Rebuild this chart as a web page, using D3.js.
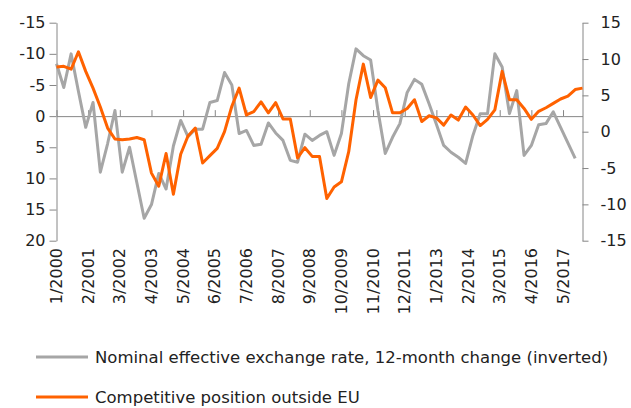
<!DOCTYPE html>
<html>
<head>
<meta charset="utf-8">
<script src="https://cdn.jsdelivr.net/npm/d3@7"></script>
<style>
  body { margin: 0; background: #fff; }
  svg { font-family: "DejaVu Sans", sans-serif; }
</style>
</head>
<body>
<svg id="chart" width="631" height="408"></svg>
<script>
// quarterly observations from Q1 2000 (gray ends Q4 2017, orange Q1 2018)
const nominalRate = [
  -8.4, -4.6, -10.0, -4.0, 1.8, -2.2, 9.0, 4.4, -0.9, 9.0, 5.0, 10.7,
  16.4, 14.2, 9.2, 11.7, 4.8, 0.7, 3.3, 2.1, 2.1, -2.2, -2.5, -7.0,
  -5.0, 2.8, 2.3, 4.7, 4.5, 1.1, 2.7, 3.9, 7.1, 7.4, 2.9, 3.9,
  3.1, 2.5, 6.3, 2.8, -5.2, -10.8, -9.7, -9.0, -0.9, 6.0, 3.4, 1.2,
  -3.8, -5.9, -5.1, -2.0, 1.3, 4.7, 5.8, 6.6, 7.6, 3.1, -0.4, -0.4,
  -10.0, -7.9, -0.4, -4.1, 6.3, 4.7, 1.4, 1.2, -0.7, 1.8, 4.3, 6.8
];
const competitive = [
  8.9, 9.0, 8.6, 11.0, 8.3, 6.0, 3.4, 0.5, -1.0, -1.1, -1.0, -0.8,
  -1.1, -5.7, -7.5, -3.0, -8.6, -3.1, -0.6, 0.5, -4.3, -3.3, -2.3, 0.0,
  3.5, 6.0, 2.3, 2.75, 4.1, 2.6, 4.0, 1.75, 1.75, -3.6, -2.2, -3.4,
  -3.4, -9.2, -7.6, -6.9, -2.75, 4.4, 9.3, 4.7, 7.1, 6.05, 2.6, 2.6,
  3.2, 4.4, 1.4, 2.2, 1.9, 0.9, 2.3, 1.6, 3.4, 2.3, 0.85, 1.7,
  3.0, 8.3, 4.4, 4.4, 3.2, 1.7, 2.8, 3.3, 3.9, 4.5, 4.9, 5.8, 6.0
];
const xLabels = ["1/2000", "2/2001", "3/2002", "4/2003", "5/2004", "6/2005", "7/2006",
  "8/2007", "9/2008", "10/2009", "11/2010", "12/2011", "1/2013", "2/2014",
  "3/2015", "4/2016", "5/2017"];
const leftTicks = [-15, -10, -5, 0, 5, 10, 15, 20];
const rightTicks = [15, 10, 5, 0, -5, -10, -15];
const seriesNames = ["Nominal effective exchange rate, 12-month change (inverted)",
  "Competitive position outside EU"];
const colors = ["#a6a6a6", "#ff6200"];

const svg = d3.select("#chart");
const axisColor = "#868686";

// month offset from Jan 2000
const monthOf = s => { const [m, y] = s.split("/").map(Number); return (y - 2000) * 12 + m - 1; };

const x = d3.scaleLinear().domain([0, 216]).range([56.5, 582.5]);
const yL = d3.scaleLinear().domain([-15, 20]).range([22.7, 240.7]);
const yR = d3.scaleLinear().domain([15, -15]).range([22.7, 240.7]);

const styleAxis = g => {
  g.selectAll("path, line").attr("stroke", axisColor).attr("stroke-width", 1);
  g.selectAll("text").attr("fill", "#222").style("font-size", "16px")
    .style("font-family", "\"DejaVu Sans\", sans-serif");
};

// left axis (inverted)
svg.append("g")
  .attr("transform", `translate(${x(0)},0)`)
  .call(d3.axisLeft(yL).tickValues(leftTicks).tickSize(7).tickSizeOuter(0)
    .tickPadding(4).tickFormat(d => String(d)))
  .call(styleAxis);

// right axis
svg.append("g")
  .attr("transform", `translate(${x(216)},0)`)
  .call(d3.axisRight(yR).tickValues(rightTicks).tickSize(6).tickSizeOuter(0)
    .tickPadding(12).tickFormat(d => String(d)))
  .call(styleAxis);

// category axis on the zero line
const labelMonths = xLabels.map(monthOf);
svg.append("g")
  .attr("transform", `translate(0,${yL(0)})`)
  .call(d3.axisTop(x).tickValues(labelMonths).tickSize(6).tickSizeOuter(0).tickFormat(""))
  .call(styleAxis);

svg.append("g")
  .selectAll("text")
  .data(xLabels)
  .join("text")
  .attr("transform", d => `translate(${x(monthOf(d))},248) rotate(-90)`)
  .attr("text-anchor", "end")
  .attr("dy", "0.35em")
  .attr("fill", "#222")
  .style("font-size", "16px")
  .text(d => d);

// lines
const quarterX = (d, i) => x(i * 3);
const lineL = d3.line().x(quarterX).y(d => yL(d));
const lineR = d3.line().x(quarterX).y(d => yR(d));

svg.append("path")
  .datum(nominalRate)
  .attr("fill", "none")
  .attr("stroke", colors[0])
  .attr("stroke-width", 3)
  .attr("stroke-linejoin", "round")
  .attr("d", lineL);

svg.append("path")
  .datum(competitive)
  .attr("fill", "none")
  .attr("stroke", colors[1])
  .attr("stroke-width", 3)
  .attr("stroke-linejoin", "round")
  .attr("d", lineR);

// legend
const legend = svg.append("g")
  .selectAll("g")
  .data(seriesNames)
  .join("g")
  .attr("transform", (d, i) => `translate(36,${357 + i * 40})`);

legend.append("line")
  .attr("x1", 0).attr("x2", 52)
  .attr("stroke", (d, i) => colors[i])
  .attr("stroke-width", 3);

legend.append("text")
  .attr("x", 59)
  .attr("dy", "0.35em")
  .attr("fill", "#222")
  .style("font-size", "16.5px")
  .text(d => d);
</script>
</body>
</html>
